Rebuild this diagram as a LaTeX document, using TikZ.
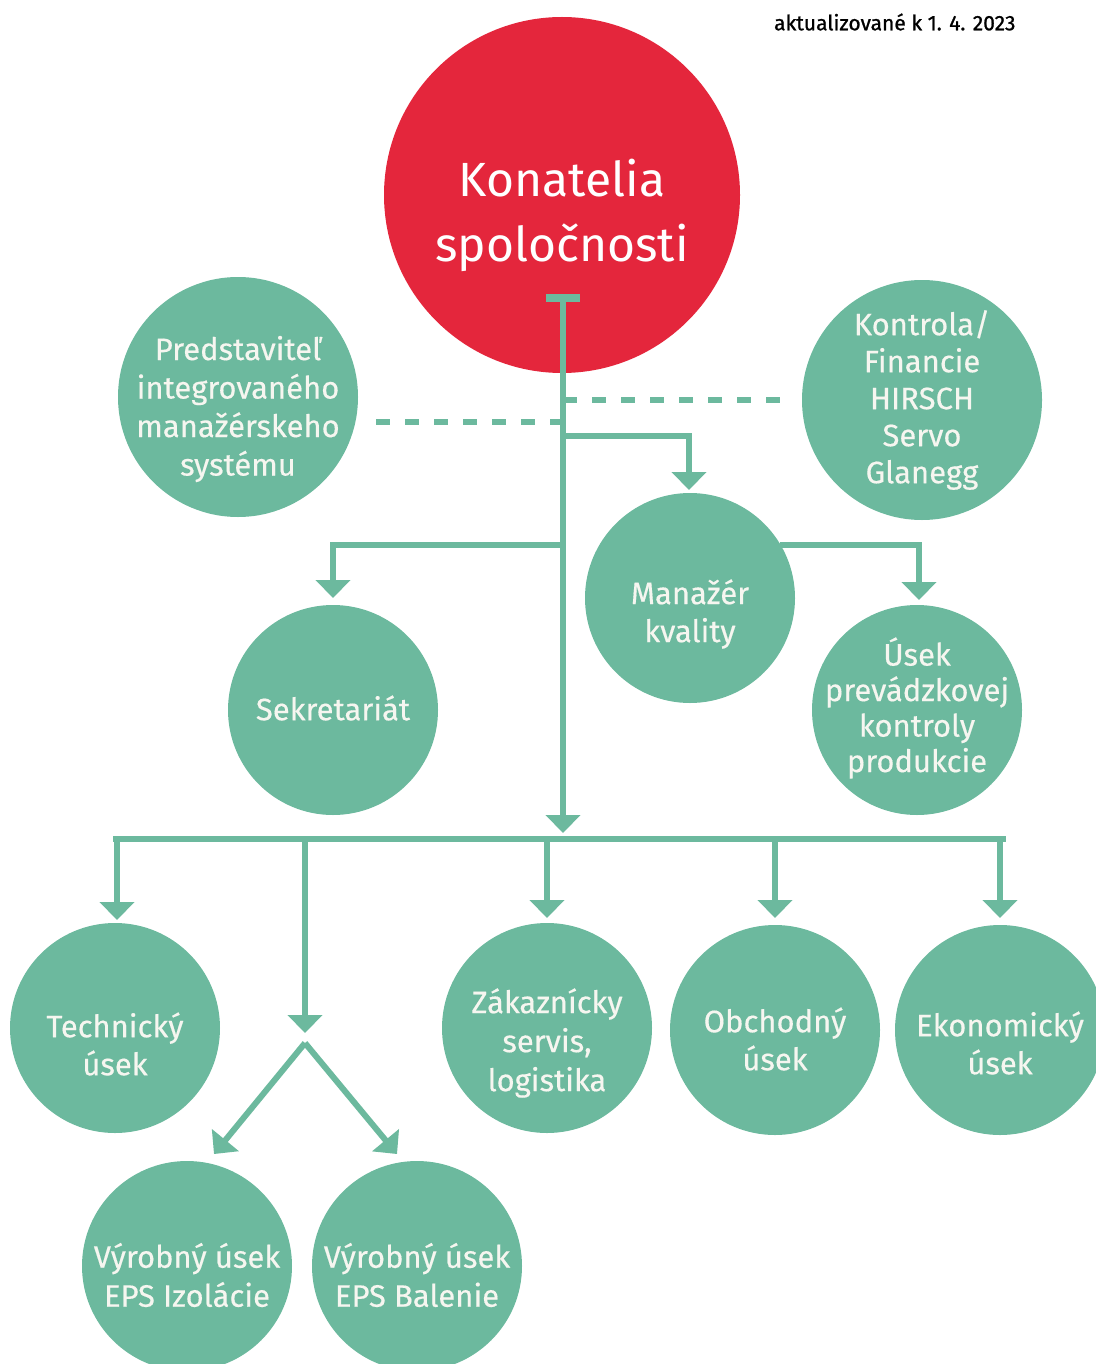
\documentclass[tikz,border=0pt]{standalone}
\usepackage{fontspec}
\setmainfont{Fira Sans}
\usetikzlibrary{arrows.meta}
\definecolor{teal1}{RGB}{108,185,158}
\definecolor{red1}{RGB}{228,38,60}
\definecolor{txt}{RGB}{246,246,240}
\begin{document}
\begin{tikzpicture}[x=1pt,y=-1pt,
  bub/.style={circle,fill=teal1,inner sep=0pt},
  bigbub/.style={bub,minimum size=240pt},
  midbub/.style={bub,minimum size=210pt},
  lbl/.style={text=txt,inner sep=0pt,align=center,font=\fontsize{31}{38}\selectfont\addfontfeature{FakeBold=0.4}},
  conn/.style={draw=teal1,line width=6pt},
  arr/.style={conn,-{Triangle[width=34pt,length=18pt]}},
  dashline/.style={draw=teal1,line width=5.5pt,dash pattern=on 14pt off 15pt}
]
\useasboundingbox (0,0) rectangle (1095,1364);
\node[anchor=east,font=\fontsize{21}{24}\selectfont\addfontfeature{FakeBold=1}] (date) at (1019,22) {aktualizované k 1. 4. 2023};

% circles
\node[circle,fill=red1,minimum size=356pt,inner sep=0pt] (kon) at (562,195) {};
\node[bigbub] (pred) at (238,397) {};
\node[bigbub] (kontr) at (922,400) {};
\node[midbub] (man) at (690,598) {};
\node[midbub] (sek) at (333,710) {};
\node[midbub] (usek) at (917,710) {};
\node[midbub] (tech) at (115,1028) {};
\node[midbub] (zak) at (547,1028) {};
\node[midbub] (obch) at (775,1030) {};
\node[midbub] (eko) at (1000,1030) {};
\node[midbub] (izo) at (187,1266) {};
\node[midbub] (bal) at (417,1266) {};

% labels
\node[lbl,text=white,font=\fontsize{48}{65}\selectfont] (konT) at (562,215) {Konatelia\\spoločnosti};
\node[lbl,font=\fontsize{31}{38.5}\selectfont\addfontfeature{FakeBold=0.4}] (predT) at (238,409) {Predstaviteľ\\integrovaného\\manažérskeho\\systému};
\node[lbl,font=\fontsize{31}{37}\selectfont\addfontfeature{FakeBold=0.4}] (kontrT) at (922,400) {Kontrola/\\Financie\\HIRSCH\\Servo\\Glanegg};
\node[lbl] (manT) at (690,614) {Manažér\\kvality};
\node[lbl] (sekT) at (333,708) {Sekretariát};
\node[lbl,font=\fontsize{31}{35.5}\selectfont\addfontfeature{FakeBold=0.4}] (usekT) at (917,708) {Úsek\\prevádzkovej\\kontroly\\produkcie};
\node[lbl] (techT) at (115,1044) {Technický\\úsek};
\node[lbl,font=\fontsize{31}{39}\selectfont\addfontfeature{FakeBold=0.4}] (zakT) at (547,1043) {Zákaznícky\\servis,\\logistika};
\node[lbl] (obchT) at (775,1039) {Obchodný\\úsek};
\node[lbl] (ekoT) at (1000,1043) {Ekonomický\\úsek};
\node[lbl,font=\fontsize{31}{39}\selectfont\addfontfeature{FakeBold=0.4}] (izoT) at (187,1275) {Výrobný úsek\\EPS Izolácie};
\node[lbl,font=\fontsize{31}{39}\selectfont\addfontfeature{FakeBold=0.4}] (balT) at (417,1275) {Výrobný úsek\\EPS Balenie};

% coordinates
\coordinate (tl) at (546,298);
\coordinate (tr) at (580,298);
\coordinate (top) at (563,298);
\coordinate (bot) at (563,833);
\coordinate (dl) at (376,422);
\coordinate (dlr) at (563,422);
\coordinate (drl) at (563,400);
\coordinate (dr) at (795,400);
\coordinate (mb) at (563,436);
\coordinate (mt) at (689,490);
\coordinate (sb) at (563,545);
\coordinate (st) at (333,598);
\coordinate (ub) at (780,545);
\coordinate (ut) at (919,600);
\coordinate (busl) at (113,839);
\coordinate (busr) at (1006,839);
\coordinate (apex) at (305,1043);

% connectors
\draw[dashline] (dl) -- (dlr);
\draw[dashline] (drl) -- (dr);
\draw[conn,line width=8pt] (tl) -- (tr);
\draw[arr] (top) -- (bot);
\draw[arr] (mb) -| (mt);
\draw[arr] (sb) -| (st);
\draw[arr] (ub) -| (ut);
\draw[conn] (busl) -- (busr);
\draw[arr] (117,836) -- (117,920);
\draw[arr] (305,836) -- (305,1033);
\draw[arr] (547,836) -- (547,918);
\draw[arr] (775,836) -- (775,918);
\draw[arr] (1000,836) -- (1000,918);
\draw[arr] (apex) -- (214,1154);
\draw[arr] (apex) -- (397,1154);
\end{tikzpicture}
\end{document}
